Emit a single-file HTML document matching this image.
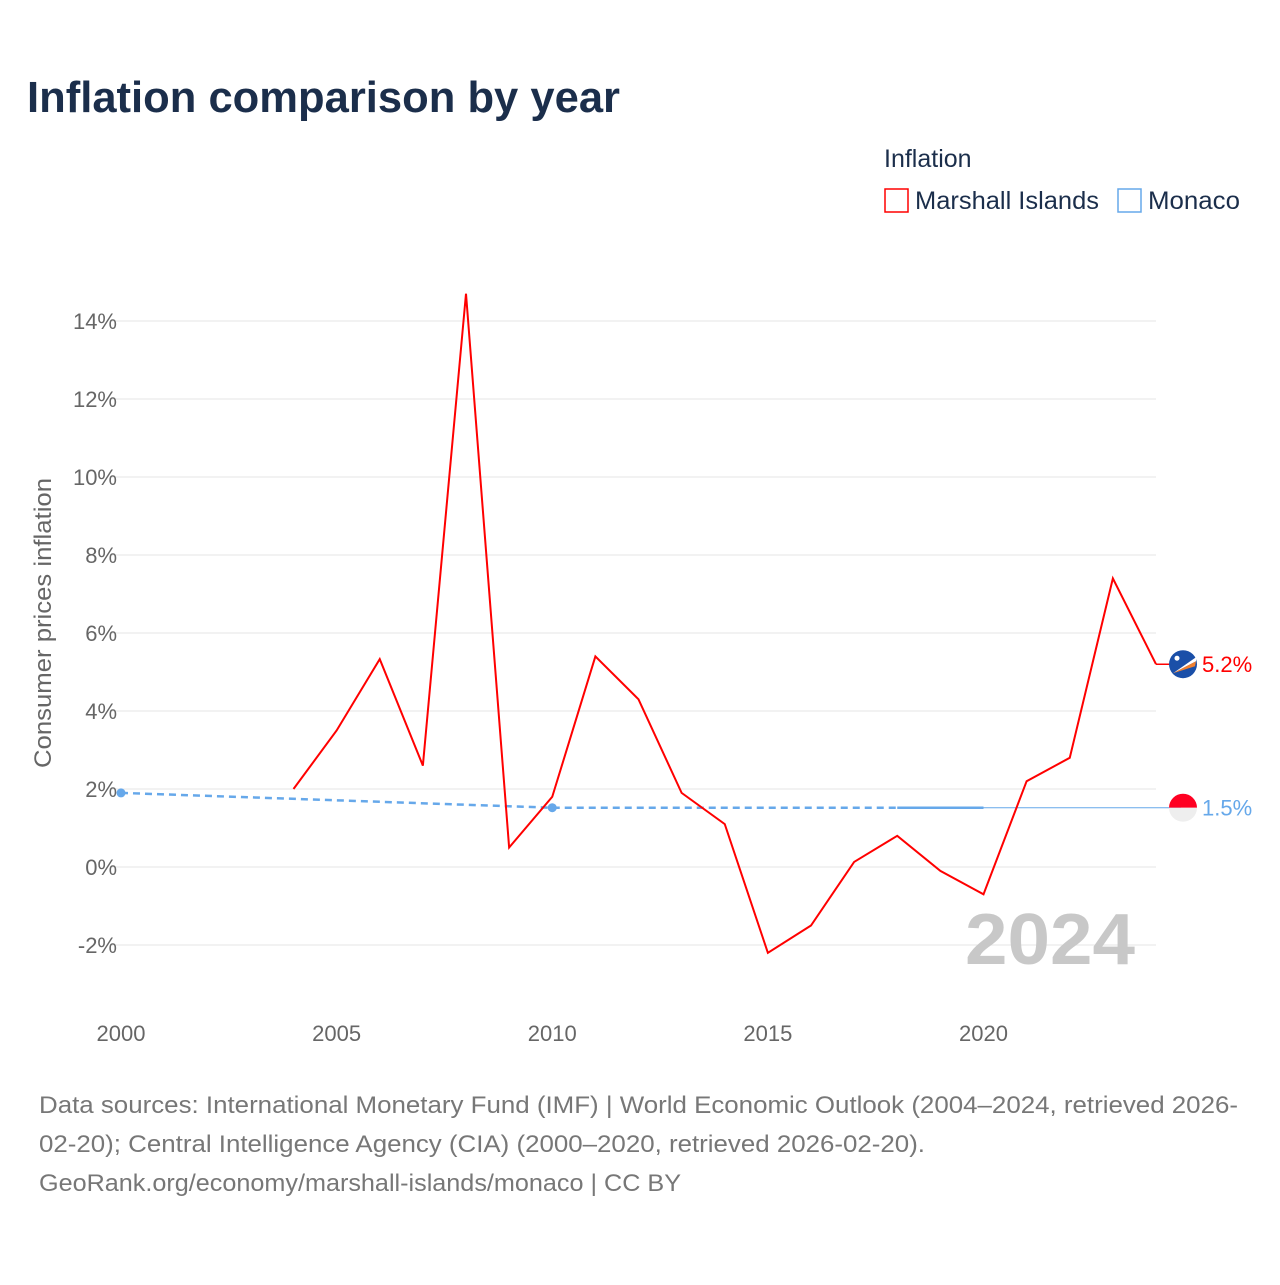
<!DOCTYPE html>
<html><head><meta charset="utf-8"><style>
body{margin:0;background:#fff;width:1280px;height:1280px;overflow:hidden;font-family:"Liberation Sans",sans-serif}
</style></head><body>
<svg width="1280" height="1280" xmlns="http://www.w3.org/2000/svg" font-family="Liberation Sans, sans-serif">
<text x="27" y="112" font-size="44" font-weight="bold" fill="#1b2e4b" textLength="593" lengthAdjust="spacingAndGlyphs">Inflation comparison by year</text>
<text x="884" y="167" font-size="25" fill="#1b2e4b">Inflation</text>
<g><rect x="885" y="189" width="23" height="23" fill="none" stroke="#ff0000" stroke-width="1.5"/><text x="915" y="209" font-size="25" fill="#1b2e4b" textLength="184" lengthAdjust="spacingAndGlyphs">Marshall Islands</text></g>
<g><rect x="1118" y="189" width="23" height="23" fill="none" stroke="#66a8ea" stroke-width="1.5"/><text x="1148" y="209" font-size="25" fill="#1b2e4b" textLength="92" lengthAdjust="spacingAndGlyphs">Monaco</text></g>
<g id="grid"></g><g id="yticks"></g><g id="xticks"></g>
<text x="51" y="623" font-size="24" fill="#666" transform="rotate(-90 51 623)" text-anchor="middle" textLength="290" lengthAdjust="spacingAndGlyphs">Consumer prices inflation</text>
<text x="965" y="964" font-size="72" font-weight="bold" fill="#c8c8c8" textLength="170" lengthAdjust="spacingAndGlyphs">2024</text>
<g id="series"></g>
<g font-size="24" fill="#777">
<text x="39" y="1113" textLength="1199" lengthAdjust="spacingAndGlyphs">Data sources: International Monetary Fund (IMF) | World Economic Outlook (2004–2024, retrieved 2026-</text>
<text x="39" y="1152" textLength="886" lengthAdjust="spacingAndGlyphs">02-20); Central Intelligence Agency (CIA) (2000–2020, retrieved 2026-02-20).</text>
<text x="39" y="1191" textLength="642" lengthAdjust="spacingAndGlyphs">GeoRank.org/economy/marshall-islands/monaco | CC BY</text>
</g>
</svg>
<script>
const yTicks=[-2,0,2,4,6,8,10,12,14];
const xTicks=[2000,2005,2010,2015,2020];
const miYears=[2004,2005,2006,2007,2008,2009,2010,2011,2012,2013,2014,2015,2016,2017,2018,2019,2020,2021,2022,2023,2024];
const miValues=[2.0,3.5,5.33,2.6,14.7,0.5,1.8,5.4,4.3,1.9,1.1,-2.2,-1.5,0.13,0.8,-0.1,-0.7,2.2,2.8,7.4,5.2];
const moYears=[2000,2010,2018,2019,2020];
const moValues=[1.9,1.52,1.52,1.52,1.52];
const NS="http://www.w3.org/2000/svg";
const X=y=>121+(y-2000)*43.125, Y=v=>867-v*39;
function mk(t,a,p){const e=document.createElementNS(NS,t);for(const k in a)e.setAttribute(k,a[k]);p.appendChild(e);return e;}
const g=document.getElementById('grid'),yt=document.getElementById('yticks'),xt=document.getElementById('xticks'),s=document.getElementById('series');
yTicks.forEach(v=>{const l=mk('line',{x1:110,x2:1156,y1:Y(v),y2:Y(v),stroke:'#e6e6e6','stroke-width':1},g);


const t=mk('text',{x:117,y:Y(v)+8,'font-size':22,fill:'#666','text-anchor':'end'},yt);t.textContent=v+'%';

});
xTicks.forEach(y=>{const t=mk('text',{x:X(y),y:1041,'font-size':22,fill:'#666','text-anchor':'middle'},xt);t.textContent=y;

});
const n=moYears.length;
const dash=mk('path',{d:moYears.slice(0,3).map((y,i)=>(i?'L':'M')+X(y)+','+Y(moValues[i])).join(''),stroke:'#66a8ea','stroke-width':2.5,'stroke-dasharray':'7,5',fill:'none'},s);


const solid=mk('path',{d:moYears.slice(2).map((y,i)=>(i?'L':'M')+X(y)+','+Y(moValues[i+2])).join(''),stroke:'#66a8ea','stroke-width':2.5,fill:'none'},s);


const ext=mk('line',{x1:X(moYears[n-1]),x2:X(2024)+25,y1:Y(moValues[n-1]),y2:Y(moValues[n-1]),stroke:'#66a8ea','stroke-width':1},s);


[0,1].forEach(i=>{const c=mk('circle',{cx:X(moYears[i]),cy:Y(moValues[i]),r:4.5,fill:'#66a8ea'},s);

});
const mi=mk('path',{d:miYears.map((y,i)=>(i?'L':'M')+X(y)+','+Y(miValues[i])).join(''),stroke:'#ff0000','stroke-width':2,fill:'none','stroke-linejoin':'miter'},s);


const lv=miValues[miValues.length-1],mv=moValues[n-1],fx=X(2024)+27;
const mx=mk('line',{x1:X(2024),x2:fx,y1:Y(lv),y2:Y(lv),stroke:'#ff0000','stroke-width':1.5},s);


const f1=mk('g',{},s);


mk('circle',{cx:fx,cy:Y(lv),r:14,fill:'#1a4fa8'},f1);
mk('path',{d:`M${fx-10},${Y(lv)+9} L${fx+13},${Y(lv)-7} L${fx+13},${Y(lv)-3} Z`,fill:'#fff'},f1);
mk('path',{d:`M${fx-10},${Y(lv)+9} L${fx+13},${Y(lv)-3} L${fx+12},${Y(lv)+2} Z`,fill:'#f08030'},f1);
mk('circle',{cx:fx-6,cy:Y(lv)-6,r:2.5,fill:'#fff'},f1);
const f2=mk('g',{},s);


mk('path',{d:`M${fx-14},${Y(mv)} A14,14 0 0 1 ${fx+14},${Y(mv)} Z`,fill:'#ff0022'},f2);
mk('path',{d:`M${fx-14},${Y(mv)} A14,14 0 0 0 ${fx+14},${Y(mv)} Z`,fill:'#eeeeee'},f2);
const l1=mk('text',{x:fx+19,y:Y(lv)+8,'font-size':22,fill:'#ff0000'},s);l1.textContent=lv.toFixed(1)+'%';


const l2=mk('text',{x:fx+19,y:Y(mv)+8,'font-size':22,fill:'#66a8ea'},s);l2.textContent=mv.toFixed(1)+'%';


</script>
</body></html>
